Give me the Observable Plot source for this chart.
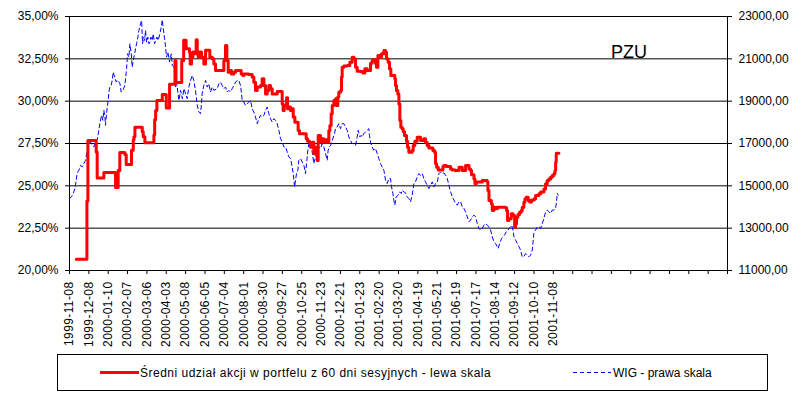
<!DOCTYPE html>
<html>
<head>
<meta charset="utf-8">
<script src="https://cdn.jsdelivr.net/npm/d3@7"></script>
<script src="https://cdn.jsdelivr.net/npm/@observablehq/plot@0.6"></script>
<style>
  html, body { margin: 0; padding: 0; background: #fff; }
  body { position: relative; width: 807px; height: 415px; overflow: hidden; font-family: "Liberation Sans", Arial, sans-serif; }
  #chart { position: absolute; left: 0; top: 0; }
  #title { position: absolute; left: 611px; top: 43px; font-size: 18px; line-height: 18px; color: #000; }
  #legend { position: absolute; left: 57px; top: 354px; width: 709px; height: 35px; border: 1px solid #000; font-size: 12px; line-height: 14px; color: #000; }
  .lg { position: absolute; white-space: nowrap; }
</style>
</head>
<body>
<div id="chart"></div>
<div id="title">PZU</div>
<div id="legend">
  <svg class="lg" style="left:42px; top:15px;" width="40" height="5"><line x1="0" x2="39" y1="2.5" y2="2.5" stroke="#ff0000" stroke-width="3"/></svg>
  <span class="lg" style="left:82px; top:11px; letter-spacing:0.5px;">Średni udział akcji w portfelu z 60 dni sesyjnych - lewa skala</span>
  <svg class="lg" style="left:515px; top:15px;" width="40" height="5"><line x1="0" x2="38" y1="2.5" y2="2.5" stroke="#0000ff" stroke-width="1" stroke-dasharray="4,3"/></svg>
  <span class="lg" style="left:555px; top:11px;">WIG - prawa skala</span>
</div>
<script>
// Category axis: session index, labelled every 20 sessions
const sessionDomain = [0, 680];
const dateLabels = ["1999-11-08","1999-12-08","2000-01-10","2000-02-07","2000-03-06","2000-04-03","2000-05-08","2000-06-05","2000-07-04","2000-08-01","2000-08-30","2000-09-27","2000-10-25","2000-11-23","2000-12-21","2001-01-23","2001-02-20","2001-03-20","2001-04-19","2001-05-21","2001-06-19","2001-07-17","2001-08-14","2001-09-12","2001-10-10","2001-11-08"];
const pctTicks = [20, 22.5, 25, 27.5, 30, 32.5, 35];
const wigTicks = [11000, 13000, 15000, 17000, 19000, 21000, 23000];

// Średni udział akcji (left scale, %)
const redIdx = [7,18,19,27.6,28.6,35.5,47.6,50.3,52,57.2,58.6,64.1,65.9,66.6,67.6,75.2,76.2,77.9,87.2,88,89,90.3,95.9,100,103.4,109,110,116,118,120.5,124,124.7,126.1,127.5,129.5,130.9,132,133,134.4,136.4,138.8,140.6,145,147.5,149.2,150.9,159.5,161.2,162.6,164,165.7,167.4,169.9,171.6,177.4,179.2,180.2,185.4,188.8,190.5,192.2,194,197.4,199.1,200.9,202.6,204.3,206,207.7,209.5,214.6,219.8,220.8,221.9,224.3,225.3,226.7,228.4,230.1,231.2,232.9,236.3,237.7,244.6,246,248,249.1,250.8,252.5,254.2,256,257,259.4,261.1,262.8,264.6,266.3,268,269.1,270.4,271.5,273.2,274.9,275.9,277.3,278.3,280.1,281.1,281.8,283.5,287,289.7,292.1,293.9,295.6,297.3,300.7,303.2,305.2,307.6,311.1,312.8,314.5,316.2,317.3,318.7,320.4,322.4,324.9,326.6,327.6,329.3,330.7,332.1,336.2,336.9,337.9,339.3,340.4,341.4,342.4,343.8,344.8,346.2,348.3,349.3,350.7,354.1,355.2,356.9,359.3,362.8,366.2,367.9,369.6,371.4,375.6,377.3,378.3,379.4,381.1,385.9,386.9,389.4,393.8,395.6,399,402.5,405.9,409.3,412.8,414.5,415.5,418,419,420.4,426.6,431.7,432.4,433.5,435.9,436.9,438.6,440.3,442.1,450.7,451.7,452.7,454.1,456.5,458.3,460,461,462,463.4,465.1,466.9,467.9,469.6,470.7,472,474.1,475.5,477.5,480.3,481.7,485.1,486.9,490.3,492,493.7,495.5,497.2,498.9,500.6,501.7,502.4,503,505.8];
const redVal = [20.67,24.1,27.68,27.0,25.47,25.79,24.9,25.9,26.97,26.85,26.26,27.1,27.7,27.9,28.46,28.2,27.9,27.54,28.0,28.9,29.45,30.04,30.4,29.6,31.0,32.4,31.1,32.4,33.6,33.1,32.89,32.2,32.6,32.9,32.8,33.62,32.8,32.6,32.9,32.6,32.2,33.0,32.6,32.5,32.2,31.81,32.4,33.29,32.4,31.71,31.81,31.61,31.71,31.81,31.61,31.52,31.61,31.57,31.42,31.12,30.63,30.83,30.93,31.32,30.93,30.43,30.63,30.93,30.73,30.43,30.57,29.84,29.45,29.74,30.2,29.55,29.65,29.45,29.55,29.06,28.76,28.27,28.07,27.78,27.64,27.58,27.28,27.58,26.89,27.28,26.5,27.97,27.58,27.78,27.58,27.72,27.58,28.27,28.56,29.25,29.74,30.04,30.14,29.74,30.24,30.53,30.63,31.42,32.01,32.07,32.11,32.3,32.6,32.5,32.01,31.77,31.75,31.67,31.91,31.81,32.24,32.4,32.44,32.24,32.01,32.7,32.6,32.8,32.99,32.89,32.5,32.3,31.91,31.52,31.32,30.93,30.63,30.43,29.84,28.86,28.46,28.37,28.21,27.97,27.64,27.28,26.99,27.09,27.38,27.64,27.87,27.68,27.78,27.58,27.38,27.24,27.09,26.99,26.3,26.1,25.94,26.14,26.2,26.14,26.0,25.94,25.91,26.1,25.91,26.2,26.0,25.91,25.65,25.41,25.12,25.22,25.31,25.22,24.72,24.13,23.94,23.54,23.74,23.64,23.74,23.7,23.54,22.95,23.05,23.35,23.25,22.56,22.76,23.15,23.31,23.44,23.54,23.74,24.04,24.23,24.33,24.13,24.04,24.17,24.23,24.43,24.53,24.63,24.82,25.12,25.31,25.41,25.51,25.61,25.71,25.91,26.4,26.93,26.93];

// WIG (right scale, points)
const wigIdx = [0,2.1,4.5,6.2,7.9,9.7,11.4,13.1,14.8,16.6,18.3,20,21.7,23.4,25.2,26.9,28.6,30.3,31.4,33.1,34.5,35.5,36.6,37.2,38.3,39,40,40.7,41.7,43.1,44.1,45.2,46.6,48.3,49.3,50.3,52.1,53.4,55.2,57.2,59,60,61.4,62.4,63.8,64.8,65.9,67.2,68.3,69.3,70.7,71.7,73.4,74.5,75.5,76.6,77.6,78.6,79.7,81,82.1,83.1,84.1,85.5,86.6,87.9,89,90.3,91.7,93.4,94.8,95.9,96.9,98.3,99.3,100.3,101.7,103.4,105.2,106.2,107.9,109,109.7,110.7,112.1,113.1,114.8,116.6,118.3,121.6,123.3,125.1,126.8,128.5,130.2,132,133.7,135.4,136.4,137.1,138.8,140.6,142.3,144,145.7,147.5,149.2,152.6,154.4,156.1,157.8,159.5,161.2,163,164.7,166.4,168.1,169.9,171.6,173.3,175,176.7,177.8,178.5,180.2,181.9,183.6,185.4,187.1,188.8,190.5,192.2,194,195.7,197.4,199.1,200.9,202.6,204.3,206,207.7,209.5,211.2,212.9,214.6,216.4,218.1,219.8,221.5,223.3,225,226.7,228.4,230.1,231.2,232.6,233.6,234.6,236,237,238.8,240.5,242.2,243.9,245,246.3,247.4,248.4,250.1,251.5,252.5,254.2,256,257.7,259.4,261.1,262.8,264.6,266.3,267.3,268.7,270.8,272.1,273.9,274.9,276.6,278.3,280.1,281.8,283.5,285.2,287,288.7,290.4,292.1,293.9,295.6,297.3,298.3,300.1,301.4,302.5,304.2,305.9,307.6,309.4,310,311.1,312.8,314.5,316.2,318,319.7,321.4,323.1,324.9,326.6,328.3,330,331.7,332.8,334.2,335.2,336.2,337.6,339.7,341.1,342.8,343.8,345.5,347.3,349,350.7,352.4,354.1,355.9,357.6,359.3,361,362.8,364.5,366.2,367.9,369.6,371.4,373.2,374.9,376.6,378.3,380.1,381.8,383.5,385.2,386.9,388.7,390.4,392.1,393.8,395.6,397.3,399,400.7,402.5,404.2,405.9,407.6,409.3,411.1,412.8,414.5,416.2,418,419.7,421.4,423.1,424.8,426.6,428.3,430,431.7,433.5,435.2,436.9,438.6,440.3,442.1,443.1,444.5,446.5,447.9,449.6,451.4,453.1,454.1,455.8,456.9,458.3,459.3,461,462.7,464.5,466.2,467.9,469.6,471.4,473.1,474.8,476.5,478.2,478.9,480,481.7,483.4,485.1,486.9,488.6,490.3,492,493.7,495.5,497.2,498.9,500.6,502.4,503.4,504.1,505.1];
const wigVal = [14401,14480,14716,15030,15580,15737,15973,15895,16052,16209,16680,16916,17074,16916,16838,17074,17152,17624,17938,18331,18096,18567,18253,17860,18410,18724,19039,19432,19667,19746,19982,20375,20139,19903,19982,19982,19825,19432,19510,19746,20532,21239,21082,21711,21239,20610,20925,21239,21475,21711,22025,22340,22654,22811,21711,22025,21868,22340,21790,22025,21711,21790,22025,21868,22183,21711,21868,22025,21868,22183,22497,22843,22418,21947,21554,21082,21318,20846,21239,20689,20610,20139,19667,19903,19353,19039,19510,19117,19589,19117,19667,19982,20218,19982,19510,18803,18488,18410,18881,19353,19746,19982,19667,19825,19432,19667,19510,19589,19825,19903,19746,19589,19667,19432,19510,19432,19589,19746,19903,19982,19982,19746,19353,19007,18960,18803,18881,18960,19039,18646,18488,18253,17938,18174,18331,18253,18331,18567,18724,18410,18174,18017,18174,18096,17938,17624,17231,17074,16838,16838,16602,16366,16288,15895,15580,14951,15266,15580,15737,16209,16288,16130,15973,15580,16052,16680,16995,17074,16838,16366,16052,16366,16602,16838,16759,16995,16838,16523,16209,16680,16838,16995,17231,17467,17702,17781,17938,17702,17938,17938,17781,17624,17309,17152,16995,16995,16916,17309,17624,17309,17388,17309,17467,17545,17624,17702,17388,17074,16838,16680,16759,16523,16288,16052,15895,15737,15266,15109,15344,15344,14951,14637,14322,14087,14480,14558,14716,14637,14794,14716,14668,14480,14401,14244,14558,15109,15187,15422,15580,15501,15580,15344,15187,15030,14873,15030,15187,14951,15109,15187,15580,15659,15580,15612,15502,15344,15030,14716,14480,14322,14165,14087,14244,14244,14008,13930,13772,13536,13301,13379,13536,13615,13536,13222,12986,12908,12986,13144,13222,13144,13065,12908,12593,12358,12279,12122,12043,12279,12515,12593,12672,12829,12908,12986,13065,13144,12908,12593,12436,12279,12122,11964,11650,11650,11807,11729,11650,11729,11964,12279,12829,12908,13065,13065,12986,13222,13458,13772,13851,13772,13694,13851,13851,13930,14322,14637,14558];

const red = redIdx.map((i, k) => ({i, v: redVal[k]}));
const wig = wigIdx.map((i, k) => ({i, v: wigVal[k]}));

// map WIG points onto the left (percent) scale for the dual axis
const wigToPct = w => pctTicks[0] + (w - wigTicks[0]) / (wigTicks[wigTicks.length - 1] - wigTicks[0]) * (pctTicks[pctTicks.length - 1] - pctTicks[0]);
const pctToWig = p => wigTicks[0] + (p - pctTicks[0]) / (pctTicks[pctTicks.length - 1] - pctTicks[0]) * (wigTicks[wigTicks.length - 1] - wigTicks[0]);
const fmtPct = d => d.toFixed(2).replace(".", ",") + "%";
const fmtWig = d => Math.round(d).toFixed(2).replace(".", ",");

const chart = Plot.plot({
  width: 807,
  height: 350,
  marginLeft: 69,
  marginRight: 80,
  marginTop: 16,
  marginBottom: 80,
  style: {fontFamily: "'Liberation Sans', Arial, sans-serif", fontSize: "12px", color: "#000", background: "transparent"},
  x: {domain: sessionDomain, axis: null},
  y: {domain: [pctTicks[0], pctTicks[pctTicks.length - 1]], axis: null},
  marks: [
    Plot.ruleY(pctTicks, {stroke: "#000", strokeWidth: 1}),
    Plot.ruleX(sessionDomain, {stroke: "#000", strokeWidth: 1}),
    Plot.axisY({anchor: "left", ticks: pctTicks, tickFormat: fmtPct, tickSize: 4, tickPadding: 7, label: null, stroke: "#000"}),
    Plot.axisY({anchor: "right", ticks: pctTicks, tickFormat: d => fmtWig(pctToWig(d)), tickSize: 4, tickPadding: 7, label: null, stroke: "#000"}),
    Plot.axisX({ticks: d3.range(sessionDomain[0], sessionDomain[1] + 1, 20), tickFormat: d => dateLabels[d / 20] ?? "", tickRotate: -90, tickSize: 4, tickPadding: 7, label: null, stroke: "#000"}),
    Plot.line(wig, {x: "i", y: d => wigToPct(d.v), stroke: "#0000ff", strokeWidth: 1, strokeDasharray: "4,3"}),
    Plot.line(red, {x: "i", y: "v", stroke: "#ff0000", strokeWidth: 3, curve: "step-after"})
  ]
});
chart.querySelectorAll('[aria-label="x-axis tick label"] text').forEach(t => t.style.letterSpacing = "0.4px");
document.getElementById("chart").appendChild(chart);
</script>
</body>
</html>
